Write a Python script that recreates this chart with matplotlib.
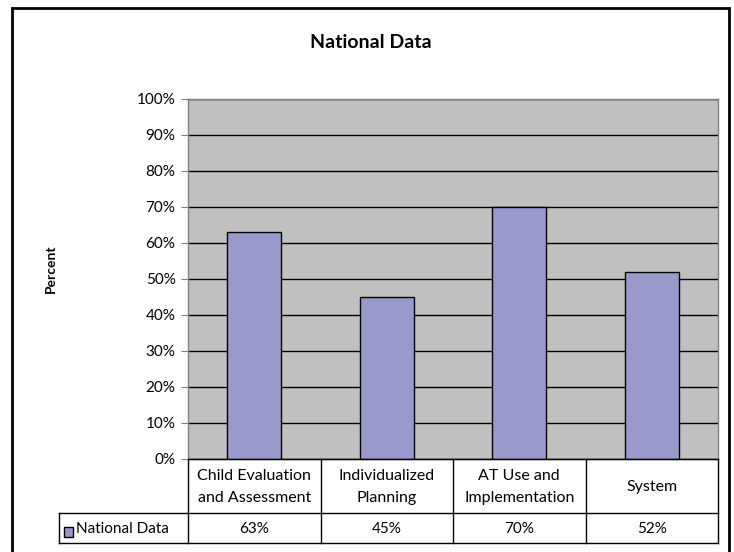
import matplotlib.pyplot as plt
from matplotlib.lines import Line2D
from matplotlib.patches import Rectangle
import numpy as np

categories = ["Child Evaluation\nand Assessment", "Individualized\nPlanning",
              "AT Use and\nImplementation", "System"]
values = [63, 45, 70, 52]
value_labels = ["63%", "45%", "70%", "52%"]
series_name = "National Data"

W, H = 734, 552
plt.rcParams['font.family'] = ['Lato', 'DejaVu Sans']

fig = plt.figure(figsize=(W / 100, H / 100), dpi=100)

def fx(x):
    return x / W

def fy(y):
    return 1 - y / H

# plot area in pixels
L, R, T, B = 188, 718, 99, 459
ax = fig.add_axes([fx(L), fy(B), (R - L) / W, (B - T) / H])
ax.set_facecolor("#C0C0C0")
x = np.arange(len(categories))
ax.bar(x, values, width=0.41, color="#9999CC", edgecolor="black", linewidth=1, zorder=3)
ax.set_xlim(-0.5, len(categories) - 0.5)
ax.set_ylim(0, 100)
ax.set_yticks(range(0, 101, 10))
ax.set_yticklabels([f"{v}%" for v in range(0, 101, 10)], fontsize=11)
ax.yaxis.grid(True, color="black", linewidth=1, zorder=0)
ax.set_axisbelow(True)
ax.set_xticks([])
ax.tick_params(axis="y", length=5, color="#808080", pad=4)
for s in ax.spines.values():
    s.set_color("#808080")
    s.set_linewidth(1)

fig.text(fx(51), fy(269), "Percent", ha="center", va="center", rotation=90,
         fontsize=10, fontweight="bold")
fig.text(fx(371), fy(42), "National Data", ha="center", va="center",
         fontsize=14, fontweight="bold")

# data table under the plot
col_w = (R - L) / len(categories)
row1_b, row2_b = 513, 543
leg_l = 59
def hline(x0, x1, y):
    fig.add_artist(Line2D([fx(x0), fx(x1)], [fy(y), fy(y)], color="black", lw=1))
def vline(x0, y0, y1):
    fig.add_artist(Line2D([fx(x0), fx(x0)], [fy(y0), fy(y1)], color="black", lw=1))

hline(L, R, B)
hline(leg_l, R, row1_b)
hline(leg_l, R, row2_b)
vline(leg_l, row1_b, row2_b)
for i in range(len(categories) + 1):
    vline(L + i * col_w, B, row2_b)
for i, (c, v) in enumerate(zip(categories, value_labels)):
    cx = L + (i + 0.5) * col_w
    fig.text(fx(cx), fy(487), c, ha="center", va="center",
             fontsize=11.5, linespacing=1.7)
    fig.text(fx(cx), fy(529), v, ha="center", va="center", fontsize=11)

fig.add_artist(Rectangle((fx(64), fy(537)), 9 / W, 10 / H, transform=fig.transFigure,
                         facecolor="#9999CC", edgecolor="black", lw=1))
fig.text(fx(76), fy(529), series_name, ha="left", va="center", fontsize=11)

# chart border
fig.add_artist(Rectangle((fx(12), fy(560)), (729 - 12) / W, (560 - 8) / H,
                         transform=fig.transFigure, fill=False, edgecolor="black", lw=2))

fig.savefig("out.png", dpi=100)
